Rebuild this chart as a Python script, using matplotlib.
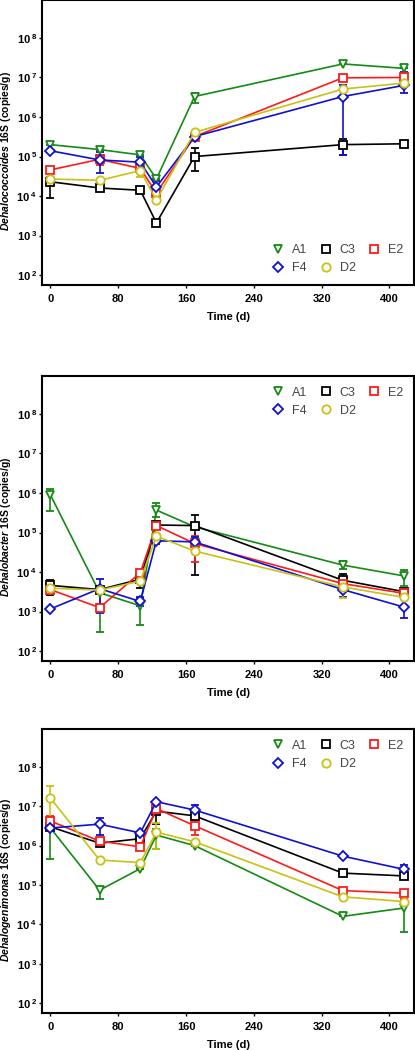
import matplotlib
matplotlib.use("Agg")
import matplotlib.pyplot as plt
import matplotlib.ticker as mticker
from matplotlib.lines import Line2D
import numpy as np

plt.rcParams['font.family'] = ['Liberation Sans', 'DejaVu Sans']
plt.rcParams['mathtext.fontset'] = 'custom'
plt.rcParams['mathtext.rm'] = 'Liberation Sans:bold'
plt.rcParams['mathtext.bf'] = 'Liberation Sans:bold'
plt.rcParams['mathtext.it'] = 'Liberation Sans:italic:bold'

# sampling times (d)
days = [0, 58, 106, 125, 170, 345, 417]
series = ["A1", "C3", "E2", "F4", "D2"]
colors = {"A1": "#158a15", "C3": "#000000", "E2": "#ff1a1a", "F4": "#1010d0", "D2": "#c8c214"}
markers = {"A1": "v", "C3": "s", "E2": "s", "F4": "D", "D2": "o"}

# Dehalococcoides 16S (copies/g)
dhc = {
    "A1": [2.0e5, 1.5e5, 1.1e5, 2.7e4, 3.3e6, 2.2e7, 1.7e7],
    "C3": [2.3e4, 1.6e4, 1.4e4, 2.1e3, 1.0e5, 2.0e5, 2.1e5],
    "E2": [4.6e4, 8.5e4, 5.0e4, 1.2e4, 3.2e5, 9.8e6, 1.0e7],
    "F4": [1.4e5, 8.2e4, 7.2e4, 1.7e4, 3.2e5, 3.3e6, 6.3e6],
    "D2": [2.7e4, 2.5e4, 4.4e4, 7.9e3, 4.1e5, 5.1e6, 7.2e6],
}
dhc_err = {
    "A1": [None, None, None, None, (2.3e6, 4.0e6), None, None],
    "C3": [(8.7e3, 3.0e4), None, None, None, (4.2e4, 1.6e5), (1.1e5, 2.7e5), None],
    "E2": [None, (6.0e4, 1.1e5), (4.0e4, 6.5e4), (8.0e3, 1.6e4), None, None, None],
    "F4": [None, (3.8e4, 1.3e5), (5.5e4, 9.5e4), (7.9e3, 2.4e4), None, (1.1e5, 6.6e6), (4.0e6, 1.4e7)],
    "D2": [None, None, (3.1e4, 5.5e4), None, None, None, None],
}

# Dehalobacter 16S (copies/g)
dhb = {
    "A1": [8.9e5, 3.0e3, 1.4e3, 3.7e5, 1.4e5, 1.5e4, 8.0e3],
    "C3": [4.6e3, 3.6e3, 6.6e3, 1.55e5, 1.5e5, 6.2e3, 3.2e3],
    "E2": [3.6e3, 1.26e3, 9.6e3, 1.5e5, 5.3e4, 5.1e3, 2.9e3],
    "F4": [1.17e3, 3.8e3, 1.8e3, 6.2e4, 5.8e4, 3.6e3, 1.3e3],
    "D2": [3.9e3, 3.5e3, 5.9e3, 8.1e4, 3.4e4, 4.2e3, 2.3e3],
}
dhb_err = {
    "A1": [(3.5e5, 1.3e6), (3.0e2, 4.0e3), (4.5e2, 2.2e3), (2.5e5, 5.7e5), None, (1.2e4, 1.9e4), (4.5e3, 1.1e4)],
    "C3": [(2.6e3, 6.2e3), None, (3.9e3, 7.5e3), None, (8.5e3, 2.8e5), (4.0e3, 9.0e3), None],
    "E2": [(2.8e3, 4.6e3), (9.5e2, 1.6e3), None, None, (1.75e4, 8.4e4), None, (2.3e3, 3.6e3)],
    "F4": [None, (9.0e2, 6.6e3), (1.4e3, 2.3e3), (5.0e4, 7.2e4), (4.7e4, 7.8e4), (2.4e3, 5.0e3), (7.0e2, 2.2e3)],
    "D2": [None, None, None, None, None, (2.2e3, 5.5e3), None],
}

# Dehalogenimonas 16S (copies/g)
dhgm = {
    "A1": [2.8e6, 7.4e4, 2.6e5, 1.85e6, 1.0e6, 1.6e4, 2.6e4],
    "C3": [3.0e6, 1.15e6, 1.5e6, 7.5e6, 5.7e6, 2.0e5, 1.7e5],
    "E2": [4.2e6, 1.3e6, 9.3e5, 8.7e6, 3.2e6, 7.2e4, 6.2e4],
    "F4": [2.8e6, 3.5e6, 2.1e6, 1.3e7, 8.0e6, 5.4e5, 2.5e5],
    "D2": [1.6e7, 4.3e5, 3.7e5, 2.2e6, 1.25e6, 5.0e4, 3.8e4],
}
dhgm_err = {
    "A1": [(4.5e5, 3.2e6), (4.3e4, 9.0e4), None, (8.0e5, 2.7e6), None, None, (6.5e3, 3.4e4)],
    "C3": [None, None, None, (3.5e6, 9.5e6), None, None, (1.4e5, 2.0e5)],
    "E2": [(2.9e6, 5.6e6), None, None, None, (1.9e6, 4.5e6), None, (4.3e4, 7.6e4)],
    "F4": [None, (1.85e6, 5.0e6), None, None, (6.0e6, 1.05e7), None, (1.8e5, 3.3e5)],
    "D2": [(4.6e6, 3.3e7), None, None, (8.0e5, 3.7e6), None, None, None],
}

genus = ["Dehalococcoides", "Dehalobacter", "Dehalogenimonas"]
panels = [(dhc, dhc_err), (dhb, dhb_err), (dhgm, dhgm_err)]
legend_loc = ["lower right", "upper right", "upper right"]

W, H = 415, 1050
fig = plt.figure(figsize=(W / 100, H / 100), dpi=100)
boxes = [(0, 285), (376, 661), (729, 1013)]

for i, (vals, errs) in enumerate(panels):
    top, bot = boxes[i]
    ax = fig.add_axes([42 / W, 1 - bot / H, 372 / W, (bot - top) / H])
    for s in series:
        y = np.array(vals[s])
        lo = np.array([e[0] if e else v for e, v in zip(errs[s], y)])
        hi = np.array([e[1] if e else v for e, v in zip(errs[s], y)])
        ax.errorbar(days, y, yerr=[y - lo, hi - y], color=colors[s], ecolor=colors[s],
                    marker=markers[s], ms=6 if markers[s] != "D" else 5, mfc="white",
                    mec=colors[s], mew=1.3, lw=1.2, elinewidth=1.2, capsize=3, capthick=1.2,
                    label=s, zorder=3)
    ax.set_yscale("log")
    ax.set_ylim(10 ** 1.75, 10 ** 8.96)
    ax.set_xlim(-10, 429)
    ax.set_xticks([0, 80, 160, 240, 320, 400])
    ax.set_yticks([10.0 ** k for k in range(2, 9)])
    ax.yaxis.set_minor_locator(mticker.NullLocator())
    ax.yaxis.set_major_formatter(mticker.FuncFormatter(
        lambda v, p: r"$\mathrm{10^{\ %d}}$" % int(round(np.log10(v)))))
    ax.tick_params(axis="both", labelsize=8, length=2.5, width=1)
    ax.tick_params(axis="y", pad=0.8)
    ax.tick_params(axis="x", pad=4)
    for lab in ax.get_xticklabels():
        lab.set_fontweight("bold")
    for sp in ax.spines.values():
        sp.set_linewidth(1.5)
    ax.set_xlabel("Time (d)", fontsize=8, fontweight="bold", labelpad=6)
    ax.set_ylabel(r"$\mathit{%s}$ 16S (copies/g)" % genus[i], fontsize=7.5, fontweight="bold")
    ax.yaxis.set_label_coords(-0.078, 0.47)

    order = ["A1", "F4", "C3", "D2", "E2"]
    hs = [Line2D([], [], ls="none", marker=markers[s], ms=6 if markers[s] != "D" else 5,
                 mfc="white", mec=colors[s], mew=1.3) for s in order]
    ax.legend(hs, order, loc=legend_loc[i], ncol=3, frameon=False, fontsize=9,
              handletextpad=0.5, columnspacing=0.9, handlelength=1.2,
              labelcolor="#444444", borderaxespad=0.45)

fig.savefig("out.png", dpi=100)
